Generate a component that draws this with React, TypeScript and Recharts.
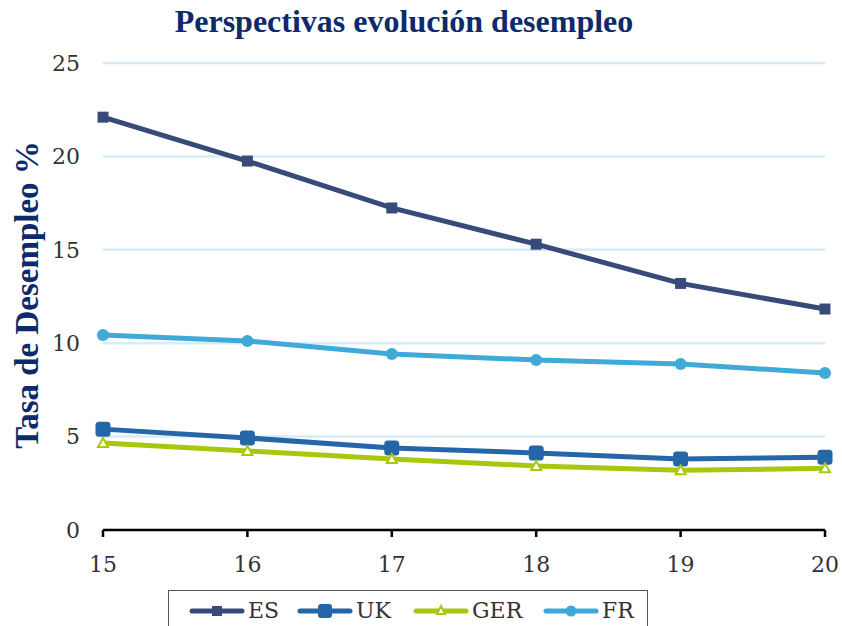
import React from "react";
import { LineChart, Line, XAxis, YAxis, CartesianGrid } from "recharts";

const years = ["15", "16", "17", "18", "19", "20"];
const esValues = [22.1, 19.75, 17.24, 15.3, 13.2, 11.83];
const ukValues = [5.4, 4.93, 4.39, 4.12, 3.8, 3.9];
const gerValues = [4.66, 4.23, 3.8, 3.43, 3.2, 3.3];
const frValues = [10.44, 10.12, 9.42, 9.1, 8.89, 8.4];
const yTicks = [0, 5, 10, 15, 20, 25];

const data = years.map((y, i) => ({
  year: y,
  ES: esValues[i],
  UK: ukValues[i],
  GER: gerValues[i],
  FR: frValues[i],
}));

const C_ES = "#374a78";
const C_UK = "#2566a8";
const C_GER = "#a8c80f";
const C_FR = "#3fa9d8";
const NAVY = "#0d2a6b";
const SERIF = "'DejaVu Serif', 'Liberation Serif', serif";

const SquareDot = (p: any) => {
  const { cx, cy, key } = p;
  if (cx == null || cy == null) return null;
  return <rect key={key} x={cx - 5.5} y={cy - 5.5} width={11} height={11} fill={C_ES} />;
};
const RoundSquareDot = (p: any) => {
  const { cx, cy, key } = p;
  if (cx == null || cy == null) return null;
  return <rect key={key} x={cx - 7.5} y={cy - 7.5} width={15} height={15} rx={3.5} fill={C_UK} />;
};
const TriDot = (p: any) => {
  const { cx, cy, key } = p;
  if (cx == null || cy == null) return null;
  return (
    <polygon
      key={key}
      points={`${cx},${cy - 5} ${cx + 5},${cy + 4} ${cx - 5},${cy + 4}`}
      fill="#fff"
      stroke={C_GER}
      strokeWidth={2}
    />
  );
};
const CircleDot = (p: any) => {
  const { cx, cy, key } = p;
  if (cx == null || cy == null) return null;
  return <circle key={key} cx={cx} cy={cy} r={6} fill={C_FR} />;
};

const legendItems = [
  { name: "ES", color: C_ES, marker: "sq" },
  { name: "UK", color: C_UK, marker: "rsq" },
  { name: "GER", color: C_GER, marker: "tri" },
  { name: "FR", color: C_FR, marker: "circ" },
];

const LegendMarker = ({ color, marker }: { color: string; marker: string }) => (
  <svg width={56} height={20} style={{ display: "block" }}>
    <line x1={3} y1={10} x2={53} y2={10} stroke={color} strokeWidth={5} strokeLinecap="round" />
    {marker === "sq" && <rect x={23} y={5} width={10} height={10} fill={color} />}
    {marker === "rsq" && <rect x={21} y={3} width={14} height={14} rx={3} fill={color} />}
    {marker === "tri" && (
      <polygon points="28,5 32,13 24,13" fill="#fff" stroke={color} strokeWidth={2} />
    )}
    {marker === "circ" && <circle cx={28} cy={10} r={5.5} fill={color} />}
  </svg>
);

const CustomLegend = () => (
  <div
    style={{
      position: "absolute",
      left: 168,
      top: 590,
      width: 480,
      height: 44,
      border: "1.5px solid #555",
      boxSizing: "border-box",
      background: "#fff",
    }}
  >
    {legendItems.map((it, i) => {
      const lefts = [20, 128, 244, 374];
      return (
        <div
          key={it.name}
          style={{
            position: "absolute",
            left: lefts[i],
            top: 7,
            display: "flex",
            alignItems: "center",
            fontFamily: SERIF,
            fontSize: 22,
            color: "#333",
          }}
        >
          <LegendMarker color={it.color} marker={it.marker} />
          <span style={{ marginLeft: 3 }}>{it.name}</span>
        </div>
      );
    })}
  </div>
);

export default function App() {
  return (
    <div style={{ position: "absolute", left: 0, top: 0, width: 842, height: 626, background: "#fff", overflow: "hidden" }}>
      <LineChart
        width={842}
        height={626}
        data={data}
        margin={{ top: 63, right: 17, bottom: 66, left: 0 }}
        style={{ position: "absolute", left: 0, top: 0 }}
      >
        <CartesianGrid vertical={false} stroke="#d6ecf6" strokeWidth={2.5} />
        <XAxis
          dataKey="year"
          height={30}
          axisLine={{ stroke: "#000", strokeWidth: 2.5 }}
          tickLine={{ stroke: "#000", strokeWidth: 2.5 }}
          tickSize={7}
          tickMargin={19}
          tick={{ fill: "#333", fontFamily: SERIF, fontSize: 22 }}
        />
        <YAxis
          width={103}
          domain={[0, 25]}
          ticks={yTicks}
          axisLine={false}
          tickLine={false}
          tickSize={0}
          tickMargin={23}
          tick={{ fill: "#333", fontFamily: SERIF, fontSize: 22 }}
        />
        <Line type="linear" dataKey="ES" stroke={C_ES} strokeWidth={5} dot={SquareDot} isAnimationActive={false} />
        <Line type="linear" dataKey="UK" stroke={C_UK} strokeWidth={5} dot={RoundSquareDot} isAnimationActive={false} />
        <Line type="linear" dataKey="GER" stroke={C_GER} strokeWidth={5} dot={TriDot} isAnimationActive={false} />
        <Line type="linear" dataKey="FR" stroke={C_FR} strokeWidth={5} dot={CircleDot} isAnimationActive={false} />
      </LineChart>
      <div
        style={{
          position: "absolute",
          left: 0,
          width: 808,
          top: 3,
          textAlign: "center",
          fontFamily: "'Liberation Serif', serif",
          fontWeight: "bold",
          fontSize: 32,
          color: NAVY,
          whiteSpace: "nowrap",
        }}
      >
        Perspectivas evolución desempleo
      </div>
      <div
        style={{
          position: "absolute",
          left: 27,
          top: 295,
          transform: "translate(-50%, -50%) rotate(-90deg)",
          whiteSpace: "nowrap",
          fontFamily: "'Liberation Serif', serif",
          fontWeight: "bold",
          fontSize: 33,
          color: NAVY,
        }}
      >
        Tasa de Desempleo %
      </div>
      <CustomLegend />
    </div>
  );
}
